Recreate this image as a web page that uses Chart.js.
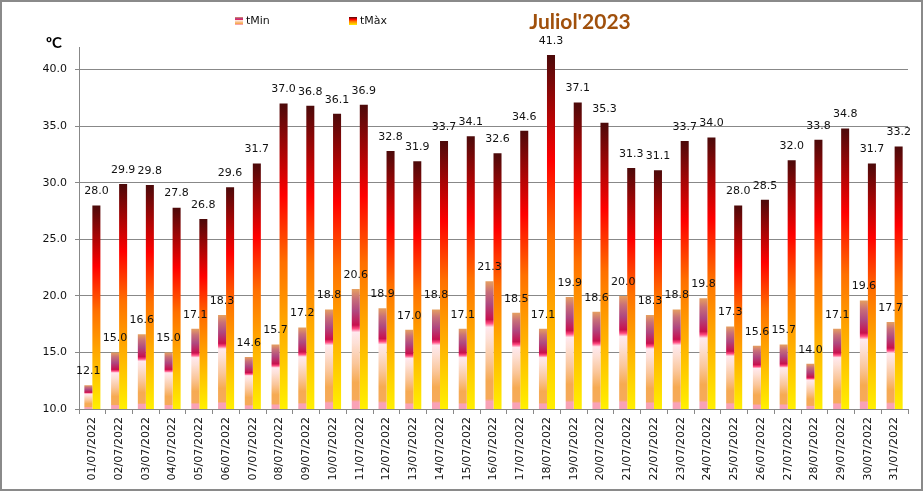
<!DOCTYPE html>
<html>
<head>
<meta charset="utf-8">
<script src="https://cdn.jsdelivr.net/npm/chart.js@4.4.0/dist/chart.umd.min.js"></script>
<style>
    html, body { margin: 0; padding: 0; background: #fff; }
    #tempChart { display: block; }
</style>
</head>
<body>
<canvas id="tempChart" width="923" height="491"></canvas>
<script>
// Data
const days = [
    '01/07/2022', '02/07/2022', '03/07/2022', '04/07/2022', '05/07/2022', '06/07/2022', '07/07/2022',
    '08/07/2022', '09/07/2022', '10/07/2022', '11/07/2022', '12/07/2022', '13/07/2022', '14/07/2022',
    '15/07/2022', '16/07/2022', '17/07/2022', '18/07/2022', '19/07/2022', '20/07/2022', '21/07/2022',
    '22/07/2022', '23/07/2022', '24/07/2022', '25/07/2022', '26/07/2022', '27/07/2022', '28/07/2022',
    '29/07/2022', '30/07/2022', '31/07/2022'
];
const tMin = [12.1, 15.0, 16.6, 15.0, 17.1, 18.3, 14.6, 15.7, 17.2, 18.8, 20.6, 18.9, 17.0, 18.8, 17.1, 21.3,
    18.5, 17.1, 19.9, 18.6, 20.0, 18.3, 18.8, 19.8, 17.3, 15.6, 15.7, 14.0, 17.1, 19.6, 17.7];
const tMax = [28.0, 29.9, 29.8, 27.8, 26.8, 29.6, 31.7, 37.0, 36.8, 36.1, 36.9, 32.8, 31.9, 33.7, 34.1, 32.6,
    34.6, 41.3, 37.1, 35.3, 31.3, 31.1, 33.7, 34.0, 28.0, 28.5, 32.0, 33.8, 34.8, 31.7, 33.2];
const yTicks = [10, 15, 20, 25, 30, 35, 40];
const seriesNames = ['tMin', 'tMàx'];
const chartTitle = "Juliol'2023";
const unitLabel = 'ºC';

// Gradient stops (top of bar -> base)
const minStops = [
    [0, '#e6a060'], [0.08, '#c87078'], [0.18, '#b04880'], [0.3, '#c8104e'], [0.33, '#ff4a80'],
    [0.36, '#ffe8ee'], [0.45, '#fde0d6'], [0.62, '#fac69a'], [0.78, '#f6aa52'], [0.92, '#f6aa5a'],
    [0.94, '#f9a2b6'], [1, '#f9a2b6']
];
const maxStops = [
    [0, '#4c0a0a'], [0.3, '#ff0000'], [0.52, '#ff7000'], [0.72, '#ffa800'], [1, '#fff000']
];

function barGradient(stops) {
    return function (c) {
        const chart = c.chart;
        if (!chart.chartArea || c.type !== 'data') return stops[stops.length - 1][1];
        const y = chart.scales.y;
        const top = y.getPixelForValue(c.raw);
        const bottom = y.getPixelForValue(y.min);
        const g = chart.ctx.createLinearGradient(0, top, 0, bottom + 0.01);
        stops.forEach(s => g.addColorStop(s[0], s[1]));
        return g;
    };
}

// value labels above each bar
const valueLabels = {
    id: 'valueLabels',
    afterDatasetsDraw(chart) {
        const ctx = chart.ctx;
        ctx.save();
        ctx.font = '11px "DejaVu Sans"';
        ctx.fillStyle = '#111';
        ctx.textAlign = 'center';
        ctx.textBaseline = 'middle';
        chart.data.datasets.forEach((ds, i) => {
            chart.getDatasetMeta(i).data.forEach((bar, j) => {
                ctx.fillText(ds.data[j].toFixed(1), bar.x, bar.y - 14);
            });
        });
        ctx.restore();
    }
};

// border, title, unit and legend
const decorations = {
    id: 'decorations',
    afterDraw(chart) {
        const ctx = chart.ctx;
        ctx.save();
        ctx.strokeStyle = '#8a8a8a';
        ctx.lineWidth = 2;
        ctx.strokeRect(1, 1, chart.width - 2, chart.height - 2);

        ctx.fillStyle = '#a0500c';
        ctx.font = 'bold 21px Lato';
        ctx.textAlign = 'center';
        ctx.textBaseline = 'middle';
        ctx.fillText(chartTitle, 580, 22);

        ctx.fillStyle = '#000';
        ctx.font = 'bold 15px Lato';
        ctx.fillText(unitLabel, 54, 43);

        const items = [{ x: 235, stops: minStops }, { x: 349, stops: maxStops }];
        ctx.font = '11px "DejaVu Sans"';
        ctx.textAlign = 'left';
        items.forEach((it, i) => {
            const g = ctx.createLinearGradient(0, 17, 0, 25);
            it.stops.forEach(s => g.addColorStop(s[0], s[1]));
            ctx.fillStyle = g;
            ctx.fillRect(it.x, 17, 8, 8);
            ctx.fillStyle = '#111';
            ctx.fillText(seriesNames[i], it.x + 11, 21);
        });
        ctx.restore();
    }
};

const tempCtx = document.getElementById('tempChart').getContext('2d');
const tempChart = new Chart(tempCtx, {
    type: 'bar',
    data: {
        labels: days,
        datasets: [
            {
                label: seriesNames[0],
                data: tMin,
                backgroundColor: barGradient(minStops),
                borderWidth: 0
            },
            {
                label: seriesNames[1],
                data: tMax,
                backgroundColor: barGradient(maxStops),
                borderWidth: 0
            }
        ]
    },
    options: {
        responsive: false,
        animation: false,
        layout: {
            padding: { top: 47, right: 15, left: 0, bottom: 0 }
        },
        datasets: {
            bar: {
                barPercentage: 1.0,
                categoryPercentage: 0.6
            }
        },
        plugins: {
            legend: { display: false },
            title: { display: false },
            tooltip: { enabled: false }
        },
        scales: {
            x: {
                afterFit: function (scale) { scale.height = 82; },
                grid: {
                    display: true,
                    drawOnChartArea: false,
                    drawTicks: true,
                    tickLength: 5,
                    offset: true,
                    color: '#888'
                },
                border: { display: true, color: '#888' },
                ticks: {
                    minRotation: 90,
                    maxRotation: 90,
                    autoSkip: false,
                    padding: 3,
                    color: '#111',
                    font: { family: 'DejaVu Sans', size: 11 }
                }
            },
            y: {
                min: 10,
                max: 42,
                afterFit: function (scale) { scale.width = 79; },
                afterBuildTicks: function (scale) {
                    scale.ticks = yTicks.map(v => ({ value: v }));
                },
                grid: {
                    color: '#888',
                    tickLength: 4
                },
                border: { display: true, color: '#888' },
                ticks: {
                    padding: 8,
                    color: '#111',
                    font: { family: 'DejaVu Sans', size: 11 },
                    callback: function (value) { return Number(value).toFixed(1); }
                }
            }
        }
    },
    plugins: [valueLabels, decorations]
});
</script>
</body>
</html>
